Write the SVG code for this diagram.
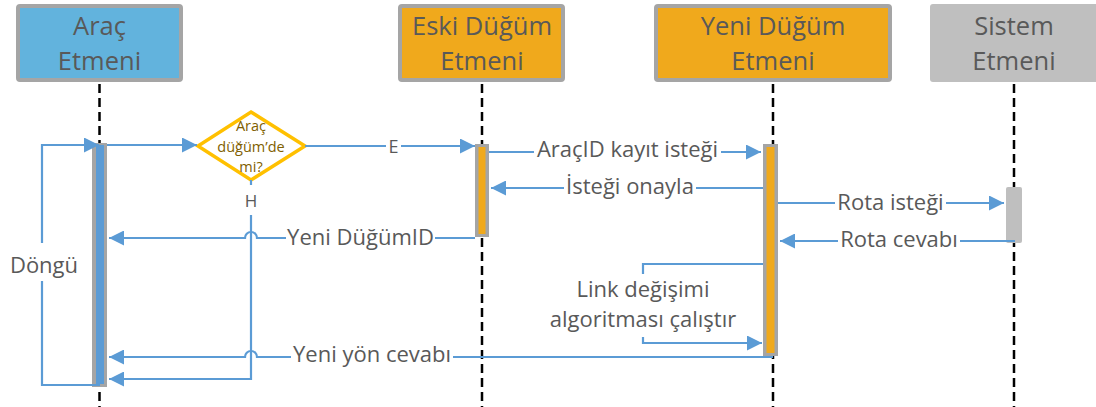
<svg xmlns="http://www.w3.org/2000/svg" width="1096" height="407" viewBox="0 0 1096 407">
<style>
.hdr{font-family:"Open Sans","Liberation Sans",sans-serif;font-size:25.5px;fill:#595959;text-anchor:middle}
.lbl{font-family:"Open Sans","Liberation Sans",sans-serif;font-size:22px;fill:#595959;text-anchor:middle}
.dtx{font-family:"Open Sans","Liberation Sans",sans-serif;font-size:14.5px;fill:#806000;text-anchor:middle}
.life{stroke:#000;stroke-width:2.5;stroke-dasharray:9 5;fill:none}
.con{stroke:#5B9BD5;stroke-width:2.2;fill:none}
.arr{marker-end:url(#ah)}
.gap{fill:#fff}
</style>
<defs>
<marker id="ah" viewBox="0 0 15 15" refX="15" refY="7.5" markerWidth="15" markerHeight="15" orient="auto" markerUnits="userSpaceOnUse">
<path d="M0,0 L15,7.5 L0,15 z" fill="#5B9BD5"/>
</marker>
</defs>
<rect width="1096" height="407" fill="#fff"/>

<g id="lifelines">
<line class="life" x1="99.5" y1="84" x2="99.5" y2="407"/>
<line class="life" x1="482" y1="84" x2="482" y2="407"/>
<line class="life" x1="773" y1="84" x2="773" y2="407"/>
<line class="life" x1="1014" y1="84" x2="1014" y2="407"/>
</g>

<g id="node-arac">
<rect x="18" y="6" width="163" height="74" rx="2" fill="#62B3DD" stroke="#A5A5A5" stroke-width="4"/>
<text class="hdr" x="99.5" y="35">Araç</text>
<text class="hdr" x="99.5" y="70">Etmeni</text>
</g>
<g id="node-eski">
<rect x="400" y="6" width="163" height="74" rx="2" fill="#F0A91C" stroke="#A5A5A5" stroke-width="4"/>
<text class="hdr" x="482" y="35">Eski Düğüm</text>
<text class="hdr" x="482" y="70">Etmeni</text>
</g>
<g id="node-yeni">
<rect x="656" y="6" width="234" height="74" rx="2" fill="#F0A91C" stroke="#A5A5A5" stroke-width="4"/>
<text class="hdr" x="773" y="35">Yeni Düğüm</text>
<text class="hdr" x="773" y="70">Etmeni</text>
</g>
<g id="node-sistem">
<rect x="930" y="4" width="170" height="78" rx="3" fill="#BFBFBF"/>
<text class="hdr" x="1014" y="35">Sistem</text>
<text class="hdr" x="1014" y="70">Etmeni</text>
</g>

<g id="act-arac">
<rect x="92" y="143" width="15" height="244" fill="#A5A5A5"/>
<rect x="96" y="145" width="8" height="239" fill="#5B9BD5"/>
</g>
<g id="act-eski">
<rect x="475" y="144" width="14" height="93" fill="#A5A5A5"/>
<rect x="478.5" y="147" width="7" height="87" fill="#F0A91C"/>
</g>
<g id="act-yeni">
<rect x="763" y="144" width="15" height="212" fill="#A5A5A5"/>
<rect x="766.5" y="147" width="8" height="206" fill="#F0A91C"/>
</g>
<g id="act-sistem">
<rect x="1006" y="187" width="16" height="56" rx="2" fill="#BFBFBF"/>
</g>

<g id="node-decision">
<polygon points="251,112 305,146 251,180 198,146" fill="#fff" stroke="#FFC000" stroke-width="3.5" stroke-linejoin="miter"/>
<text class="dtx" x="251" y="131">Araç</text>
<text class="dtx" x="251" y="152">düğüm’de</text>
<text class="dtx" x="251" y="172">mi?</text>
</g>

<g id="connectors">
<!-- loop -->
<path class="con" d="M100 385 H42 V281"/>
<path class="con arr" d="M42 243 V145 H99"/>
<text class="lbl" x="44" y="273">Döngü</text>
<!-- to decision -->
<path class="con arr" d="M107 145 H197"/>
<!-- E -->
<path class="con arr" d="M305 146 H475"/>
<rect class="gap" x="386" y="134" width="15" height="22"/>
<text class="lbl" x="393.5" y="153" style="font-size:18px">E</text>
<!-- H -->
<path class="con" d="M251 180 V185"/>
<text class="lbl" x="251" y="207" style="font-size:17px">H</text>
<path class="con arr" d="M251 215 V379 H109"/>
<!-- Yeni DüğümID -->
<path class="con arr" d="M475 238 H257 A6 6 0 0 0 245 238 H109"/>
<rect class="gap" x="286" y="226" width="149" height="24"/>
<text class="lbl" x="360.5" y="245">Yeni DüğümID</text>
<!-- AraçID kayıt isteği -->
<path class="con arr" d="M489 152 H761"/>
<rect class="gap" x="534" y="139" width="187" height="24"/>
<text class="lbl" x="627.5" y="157">AraçID kayıt isteği</text>
<!-- İsteği onayla -->
<path class="con arr" d="M763 188 H491"/>
<rect class="gap" x="564" y="175" width="132" height="24"/>
<text class="lbl" x="630" y="194">İsteği onayla</text>
<!-- Rota isteği -->
<path class="con arr" d="M778 203 H1004"/>
<rect class="gap" x="835" y="190" width="111" height="24"/>
<text class="lbl" x="890.5" y="210">Rota isteği</text>
<!-- Rota cevabı -->
<path class="con arr" d="M1015 241 H780"/>
<rect class="gap" x="838" y="228" width="122" height="24"/>
<text class="lbl" x="899" y="247">Rota cevabı</text>
<!-- self loop -->
<path class="con" d="M763 264 H643 V274"/>
<path class="con arr" d="M643 337 V343 H762"/>
<text class="lbl" x="643" y="297">Link değişimi</text>
<text class="lbl" x="643" y="327">algoritması çalıştır</text>
<!-- Yeni yön cevabı -->
<path class="con arr" d="M773 357 H257 A6 6 0 0 0 245 357 H109"/>
<rect class="gap" x="291" y="344" width="162" height="24"/>
<text class="lbl" x="372" y="362">Yeni yön cevabı</text>
</g>
</svg>
